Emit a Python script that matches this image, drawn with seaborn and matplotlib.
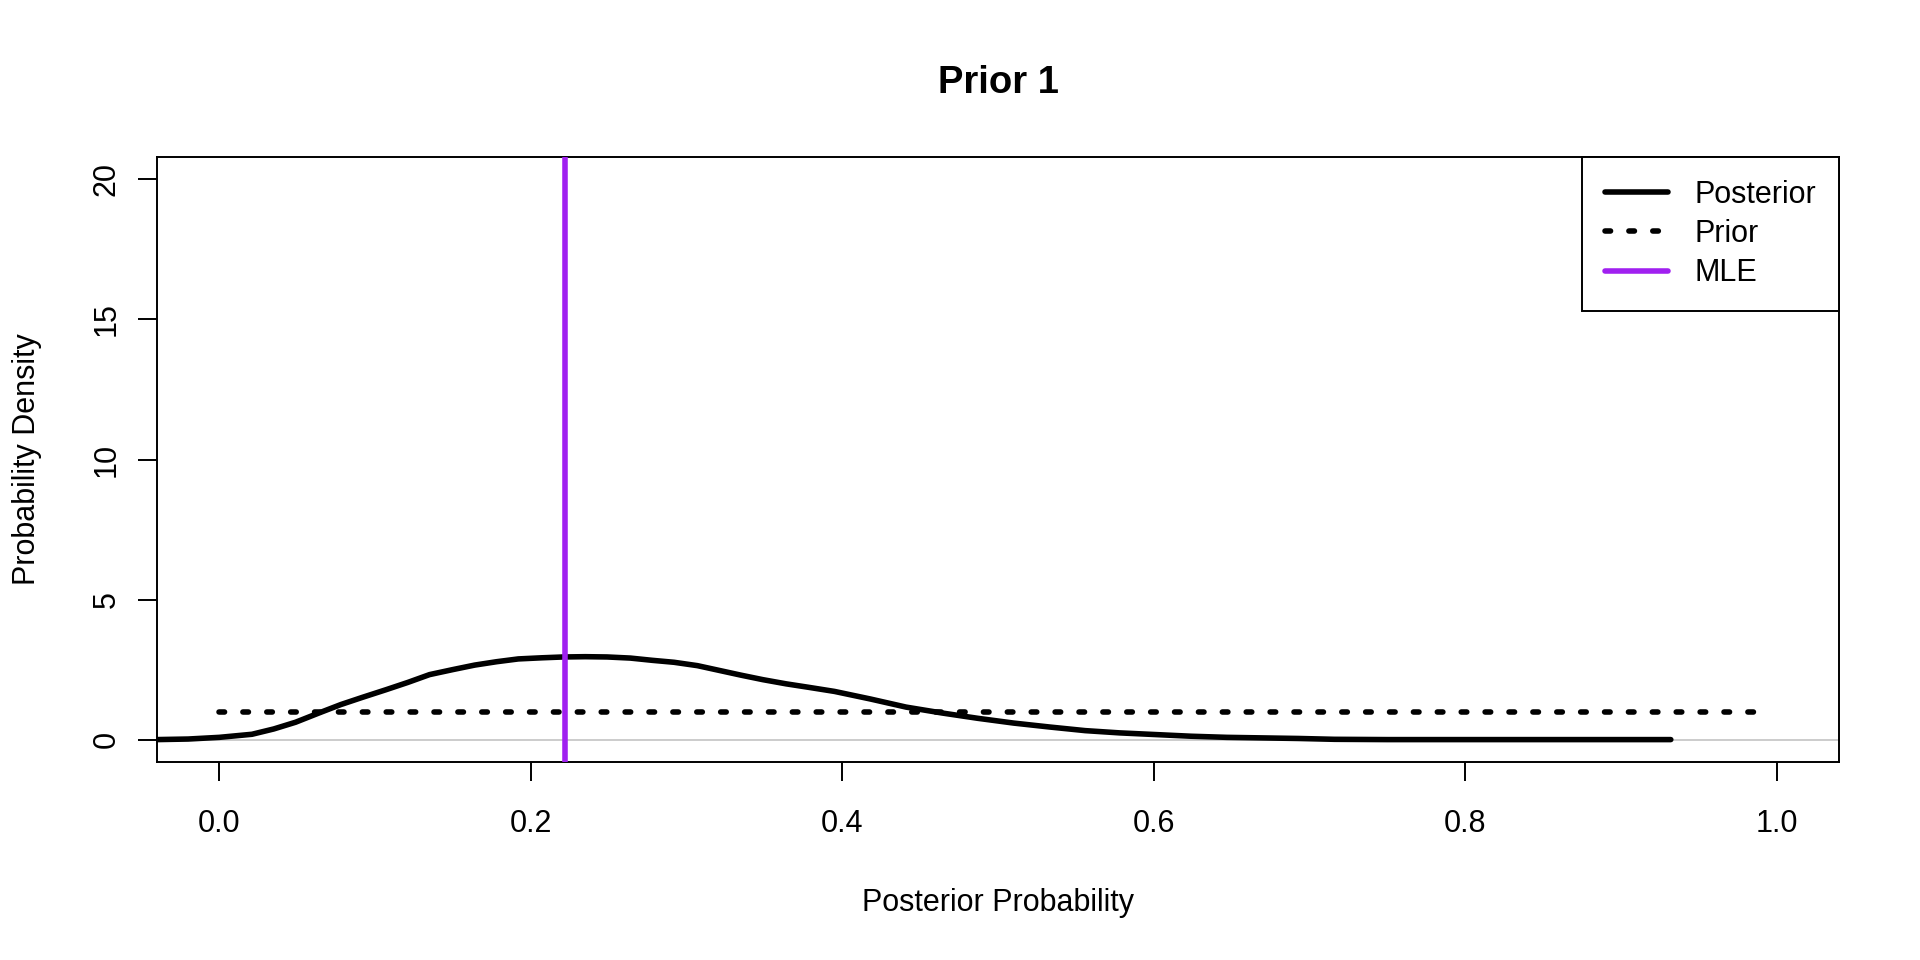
import numpy as np
import pandas as pd
import matplotlib
matplotlib.use("Agg")
import matplotlib.pyplot as plt
import seaborn as sns

# posterior density
posterior_x = [-0.04, -0.02, 0.0, 0.021, 0.035, 0.049, 0.064, 0.078, 0.092, 0.107,
               0.121, 0.135, 0.150, 0.164, 0.178, 0.192, 0.207, 0.221, 0.235, 0.249,
               0.264, 0.278, 0.292, 0.307, 0.321, 0.335, 0.349, 0.364, 0.378, 0.395,
               0.418, 0.441, 0.464, 0.487, 0.510, 0.533, 0.556, 0.578, 0.601, 0.624,
               0.647, 0.670, 0.693, 0.716, 0.75, 0.80, 0.85, 0.90, 0.932]
posterior_y = [0.0, 0.02, 0.08, 0.19, 0.38, 0.62, 0.95, 1.25, 1.51, 1.78,
               2.04, 2.32, 2.50, 2.66, 2.78, 2.88, 2.92, 2.95, 2.96, 2.95,
               2.91, 2.83, 2.76, 2.64, 2.47, 2.30, 2.14, 1.99, 1.87, 1.72,
               1.45, 1.16, 0.95, 0.76, 0.59, 0.45, 0.32, 0.24, 0.18, 0.12,
               0.08, 0.06, 0.04, 0.01, 0.0, 0.0, 0.0, 0.0, 0.0]

# uniform prior
prior_x = [0.0, 0.99]
prior_y = [1.0, 1.0]

mle = 0.222

x_ticks = [0.0, 0.2, 0.4, 0.6, 0.8, 1.0]
x_tick_labels = ["0.0", "0.2", "0.4", "0.6", "0.8", "1.0"]
y_ticks = [0, 5, 10, 15, 20]
y_tick_labels = ["0", "5", "10", "15", "20"]

post_df = pd.DataFrame({"x": posterior_x, "y": posterior_y})
prior_df = pd.DataFrame({"x": prior_x, "y": prior_y})

sns.set_theme(style="white")
plt.rcParams["font.family"] = ["Liberation Sans", "DejaVu Sans"]
plt.rcParams["text.color"] = "black"
plt.rcParams["axes.labelcolor"] = "black"
plt.rcParams["xtick.color"] = "black"
plt.rcParams["ytick.color"] = "black"
plt.rcParams["axes.edgecolor"] = "black"
plt.rcParams["axes.linewidth"] = 1.4

fig = plt.figure(figsize=(19.2, 9.6), dpi=100)
ax = fig.add_axes([157 / 1920, 1 - 762 / 960, (1839 - 157) / 1920, (762 - 157) / 960])

ax.axhline(0, color="#BEBEBE", lw=1.1, zorder=1)
sns.lineplot(data=post_df, x="x", y="y", ax=ax, color="black", lw=4,
             sort=False, estimator=None, label="Posterior", zorder=3)
sns.lineplot(data=prior_df, x="x", y="y", ax=ax, color="black", lw=4,
             linestyle=(0, (1.0, 3.3)), dash_capstyle="round",
             sort=False, estimator=None, label="Prior", zorder=2)
ax.axvline(mle, color="#A020F0", lw=4, label="MLE", zorder=4)

ax.set_xlim(-0.04, 1.04)
ax.set_ylim(-0.8, 20.8)
ax.set_xticks(x_ticks)
ax.set_xticklabels(x_tick_labels)
ax.set_yticks(y_ticks)
ax.set_yticklabels(y_tick_labels, rotation=90, va="center")

ax.tick_params(axis="both", direction="out", length=13.5, width=1.4,
               labelsize=22, colors="black", bottom=True, left=True)
ax.tick_params(axis="x", pad=20)
ax.tick_params(axis="y", pad=12)
for s in ax.spines.values():
    s.set_visible(True)
    s.set_color("black")
    s.set_linewidth(1.4)

ax.set_xlabel("Posterior Probability", fontsize=22, color="black")
ax.set_ylabel("Probability Density", fontsize=22, color="black")
ax.xaxis.label.set_va("baseline")
ax.xaxis.set_label_coords(0.5, (762 - 910.7) / 605)
ax.yaxis.label.set_va("baseline")
ax.yaxis.set_label_coords((35 - 157) / 1682, 0.5)

fig.text((157 + 1839) / 2 / 1920, 1 - 93.3 / 960, "Prior 1", ha="center",
         va="baseline", fontsize=27.5, fontweight="bold", color="black")

leg = ax.legend(loc="upper right", bbox_to_anchor=(1, 1), borderaxespad=0,
                fontsize=22, handlelength=2.05, handletextpad=0.87,
                labelspacing=0.3, borderpad=0.75, fancybox=False,
                edgecolor="black", framealpha=1)
leg.get_frame().set_linewidth(1.4)
for t in leg.get_texts():
    t.set_color("black")

fig.savefig("out.png", dpi=100, facecolor="white")
